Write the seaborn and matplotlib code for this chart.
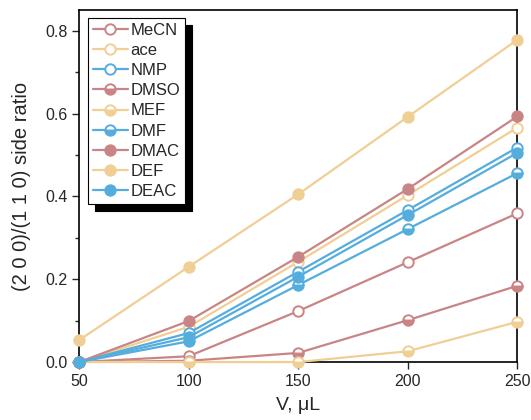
import matplotlib
matplotlib.use('Agg')
import matplotlib.pyplot as plt
import seaborn as sns
from matplotlib.ticker import MultipleLocator

# data
volume = [50, 100, 150, 200, 250]
MeCN = [0.0, 0.014, 0.123, 0.241, 0.359]
ace = [0.0, 0.085, 0.242, 0.403, 0.566]
NMP = [0.0, 0.070, 0.218, 0.367, 0.518]
DMSO = [0.0, 0.003, 0.022, 0.101, 0.184]
MEF = [0.0, 0.0, 0.0, 0.026, 0.097]
DMF = [0.0, 0.050, 0.186, 0.321, 0.456]
DMAC = [0.0, 0.099, 0.254, 0.418, 0.593]
DEF = [0.053, 0.230, 0.405, 0.592, 0.778]
DEAC = [0.0, 0.060, 0.206, 0.355, 0.505]

names = ['MeCN', 'ace', 'NMP', 'DMSO', 'MEF', 'DMF', 'DMAC', 'DEF', 'DEAC']
series = [MeCN, ace, NMP, DMSO, MEF, DMF, DMAC, DEF, DEAC]

pink = '#C98585'
tan = '#F0CF95'
blue = '#55ADDE'
colors = [pink, tan, blue] * 3
fills = ['none'] * 3 + ['bottom'] * 3 + ['full'] * 3

sns.set_style('ticks')
plt.rcParams['font.family'] = ['Liberation Sans', 'DejaVu Sans']

fig = plt.figure(figsize=(5.31, 4.2), dpi=100)
ax = fig.add_axes([0.149, 0.138, 0.825, 0.838])

for name, vals, c, f in zip(names, series, colors, fills):
    kw = dict(marker='o', markersize=7.5, markeredgewidth=1.4,
              markeredgecolor=c, linewidth=1.6, clip_on=False, zorder=3)
    if f == 'none':
        kw.update(markerfacecolor='white')
    elif f == 'bottom':
        kw.update(fillstyle='bottom', markerfacecolor=c, markerfacecoloralt='white')
    else:
        kw.update(markerfacecolor=c)
    sns.lineplot(x=volume, y=vals, color=c, label=name, ax=ax, **kw)

ax.set_xlim(50, 250)
ax.set_ylim(0, 0.85)
ax.xaxis.set_major_locator(MultipleLocator(50))
ax.yaxis.set_major_locator(MultipleLocator(0.2))
ax.yaxis.set_minor_locator(MultipleLocator(0.1))
ax.tick_params(axis='both', which='major', labelsize=11.5, length=5, width=1, direction='out')
ax.tick_params(axis='y', which='minor', length=3, width=1)
for s in ax.spines.values():
    s.set_visible(True)
    s.set_linewidth(1.2)
    s.set_color('black')

ax.set_xlabel('V, μL', fontsize=14, labelpad=6)
ax.set_ylabel('(2 0 0)/(1 1 0) side ratio', fontsize=14.5, labelpad=10)

h, l = ax.get_legend_handles_labels()
leg = ax.legend(h, l, loc='upper left', bbox_to_anchor=(0.02, 0.978),
                fontsize=12, frameon=True, fancybox=False,
                shadow={'color': 'black', 'alpha': 1, 'ox': 5, 'oy': -5},
                handlelength=2.1, labelspacing=0.31, borderpad=0.3,
                handletextpad=0.15, borderaxespad=0)
leg.get_frame().set_edgecolor('black')
leg.get_frame().set_linewidth(0.8)
leg.get_frame().set_alpha(1)
leg.set_zorder(5)

fig.savefig('out.png', dpi=100)
